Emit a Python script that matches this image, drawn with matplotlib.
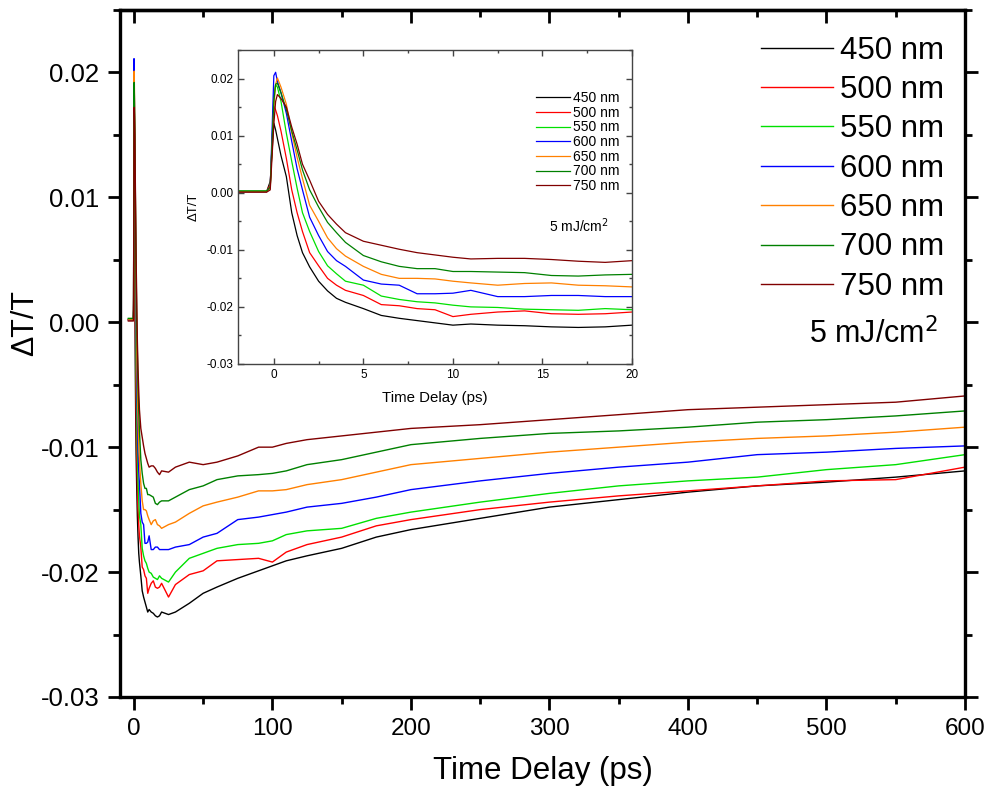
import matplotlib
matplotlib.use("Agg")
import matplotlib.pyplot as plt
from matplotlib.ticker import MultipleLocator, NullFormatter

# --- data ---
t_early = [-4, -2, -0.4, -0.2, 0, 0.1, 0.2, 0.4, 0.7, 1.0, 1.3, 1.6, 2.0, 2.5, 3.0, 3.5, 4.0,
           5, 6, 7, 8, 9, 10, 11, 12.5, 14, 15.5, 17, 18.5, 20]
t_late = [25, 30, 40, 50, 60, 75, 90, 100, 110, 125, 150, 175, 200, 250, 300, 350, 400, 450, 500, 550, 600]

labels = ['450 nm', '500 nm', '550 nm', '600 nm', '650 nm', '700 nm', '750 nm']
colors = ['#000000', '#ff0000', '#00e000', '#0000ff', '#ff8000', '#008000', '#800000']

y450_early = [0.0002, 0.0002, 0.0002, 0.002, 0.0122, 0.011, 0.0095, 0.0065, 0.0028, -0.0035, -0.0075, -0.0105,
              -0.013, -0.0155, -0.0172, -0.0185, -0.0192, -0.0203, -0.0215, -0.022, -0.0224, -0.0228, -0.0232,
              -0.0230, -0.0232, -0.0233, -0.0235, -0.0236, -0.0235, -0.0232]
y500_early = [0.0002, 0.0002, 0.0002, 0.0015, 0.0152, 0.0145, 0.0135, 0.0108, 0.006, 0.0005, -0.0035, -0.0068,
              -0.0105, -0.0128, -0.0150, -0.0162, -0.0171, -0.0180, -0.0196, -0.0198, -0.0203, -0.0205, -0.0217,
              -0.0213, -0.0209, -0.0207, -0.0212, -0.0213, -0.0212, -0.0209]
y550_early = [0.0003, 0.0003, 0.0003, 0.001, 0.017, 0.0189, 0.0185, 0.016, 0.0104, 0.0055, 0.0008, -0.0035,
              -0.0068, -0.0103, -0.0128, -0.0142, -0.0155, -0.0162, -0.0181, -0.0187, -0.0191, -0.0193, -0.0197,
              -0.0200, -0.0201, -0.0204, -0.0205, -0.0206, -0.0203, -0.0205]
y600_early = [0.0002, 0.0002, 0.0002, 0.001, 0.0205, 0.0211, 0.0195, 0.0175, 0.0139, 0.009, 0.0042, 0.0005,
              -0.0043, -0.0075, -0.0103, -0.0119, -0.0129, -0.0153, -0.0160, -0.0162, -0.0177, -0.0177, -0.0176,
              -0.0171, -0.0182, -0.0182, -0.0180, -0.0180, -0.0182, -0.0182]
y650_early = [0.0002, 0.0002, 0.0002, 0.0008, 0.015, 0.019, 0.0201, 0.0185, 0.0155, 0.0105, 0.0062, 0.0025,
              -0.0022, -0.005, -0.0079, -0.0098, -0.0111, -0.0129, -0.0143, -0.0150, -0.0150, -0.0151, -0.0155,
              -0.0158, -0.0162, -0.0159, -0.0158, -0.0162, -0.0163, -0.0165]
y700_early = [0.0003, 0.0003, 0.0003, 0.001, 0.016, 0.019, 0.0192, 0.0175, 0.0145, 0.0108, 0.0075, 0.0040,
              0.0005, -0.0025, -0.0052, -0.0070, -0.0087, -0.0110, -0.0121, -0.0129, -0.0133, -0.0133, -0.0138,
              -0.0138, -0.0139, -0.0140, -0.0145, -0.0146, -0.0144, -0.0143]
y750_early = [0.0001, 0.0001, 0.0001, 0.0005, 0.012, 0.016, 0.0172, 0.0165, 0.0150, 0.0115, 0.0085, 0.0050,
              0.0022, -0.0015, -0.0038, -0.0055, -0.0070, -0.0085, -0.0092, -0.0099, -0.0105, -0.0109, -0.0113,
              -0.0116, -0.0115, -0.0115, -0.0117, -0.0120, -0.0122, -0.0119]

y450_late = [-0.0234, -0.0232, -0.0225, -0.0217, -0.0212, -0.0205, -0.0199, -0.0195, -0.0191, -0.0187, -0.0181,
             -0.0172, -0.0166, -0.0157, -0.0148, -0.0142, -0.0136, -0.0131, -0.0128, -0.0124, -0.0119]
y500_late = [-0.0220, -0.0210, -0.0202, -0.0199, -0.0191, -0.0190, -0.0189, -0.0192, -0.0184, -0.0178, -0.0172,
             -0.0163, -0.0158, -0.0150, -0.0144, -0.0139, -0.0135, -0.0131, -0.0127, -0.0126, -0.0116]
y550_late = [-0.0208, -0.0200, -0.0189, -0.0185, -0.0181, -0.0178, -0.0177, -0.0175, -0.0170, -0.0167, -0.0165,
             -0.0157, -0.0152, -0.0144, -0.0137, -0.0131, -0.0127, -0.0124, -0.0118, -0.0114, -0.0106]
y600_late = [-0.0182, -0.0180, -0.0178, -0.0172, -0.0169, -0.0158, -0.0156, -0.0154, -0.0152, -0.0148, -0.0145,
             -0.0140, -0.0134, -0.0127, -0.0121, -0.0116, -0.0112, -0.0106, -0.0104, -0.0101, -0.0099]
y650_late = [-0.0162, -0.0160, -0.0153, -0.0147, -0.0144, -0.0140, -0.0135, -0.0135, -0.0134, -0.0130, -0.0126,
             -0.0120, -0.0114, -0.0109, -0.0104, -0.0100, -0.0096, -0.0093, -0.0091, -0.0088, -0.0084]
y700_late = [-0.0143, -0.0140, -0.0134, -0.0131, -0.0126, -0.0123, -0.0122, -0.0121, -0.0119, -0.0114, -0.0110,
             -0.0104, -0.0098, -0.0093, -0.0089, -0.0087, -0.0084, -0.0080, -0.0078, -0.0075, -0.0071]
y750_late = [-0.0120, -0.0116, -0.0112, -0.0114, -0.0112, -0.0107, -0.0100, -0.0100, -0.0097, -0.0094, -0.0091,
             -0.0088, -0.0085, -0.0082, -0.0078, -0.0074, -0.0070, -0.0068, -0.0066, -0.0064, -0.0059]

early = [y450_early, y500_early, y550_early, y600_early, y650_early, y700_early, y750_early]
late = [y450_late, y500_late, y550_late, y600_late, y650_late, y700_late, y750_late]

ytick_vals = [-0.03, -0.02, -0.01, 0.0, 0.01, 0.02]
ytick_text = ['-0.03', '-0.02', '-0.01', '0.00', '0.01', '0.02']

plt.rcParams['font.family'] = ['Liberation Sans', 'DejaVu Sans']

fig = plt.figure(figsize=(9.88, 7.98), dpi=100)
ax = fig.add_axes([0.1215, 0.1266, 0.8552, 0.8609])

for ye, yl, lab, c in zip(early, late, labels, colors):
    ax.plot(t_early + t_late, ye + yl, color=c, lw=1.0, label=lab)

ax.set_xlim(-10, 600)
ax.set_ylim(-0.03, 0.025)
ax.xaxis.set_major_locator(MultipleLocator(100))
ax.xaxis.set_minor_locator(MultipleLocator(50))
ax.set_yticks(ytick_vals)
ax.set_yticklabels(ytick_text)
ax.yaxis.set_minor_locator(MultipleLocator(0.005))
for s in ax.spines.values():
    s.set_linewidth(2.4)
ax.tick_params(which='major', direction='out', length=9, width=2, pad=6, right=True)
ax.tick_params(which='minor', direction='out', length=5, width=2, right=True)
ax.tick_params(axis='x', labelsize=17.5)
ax.tick_params(axis='y', labelsize=18.5)

# top ticks point inward
top = ax.secondary_xaxis('top')
top.xaxis.set_major_locator(MultipleLocator(100))
top.xaxis.set_minor_locator(MultipleLocator(50))
top.xaxis.set_major_formatter(NullFormatter())
top.tick_params(which='major', direction='in', length=9, width=2)
top.tick_params(which='minor', direction='in', length=5, width=2)
top.spines['top'].set_linewidth(2.4)

ax.set_xlabel('Time Delay (ps)', fontsize=22.5, labelpad=12)
ax.set_ylabel('ΔT/T', fontsize=22)
ax.yaxis.set_label_coords(-0.095, 0.545)

ax.legend(loc='upper right', bbox_to_anchor=(0.997, 0.99), frameon=False, fontsize=22.5,
          handlelength=2.3, handletextpad=0.2, labelspacing=0.3, borderaxespad=0.2)
ax.text(0.968, 0.528, '5 mJ/cm$^2$', transform=ax.transAxes, fontsize=22, ha='right', va='center')

# --- inset ---
ins = fig.add_axes([0.2409, 0.5439, 0.3988, 0.3934])
for ye, lab, c in zip(early, labels, colors):
    ins.plot(t_early, ye, color=c, lw=0.9, label=lab)
ins.set_xlim(-2, 20)
ins.set_ylim(-0.03, 0.025)
ins.xaxis.set_major_locator(MultipleLocator(5))
ins.xaxis.set_minor_locator(MultipleLocator(2.5))
ins.set_yticks(ytick_vals)
ins.set_yticklabels(ytick_text)
ins.yaxis.set_minor_locator(MultipleLocator(0.005))
for s in ins.spines.values():
    s.set_linewidth(1.0)
    s.set_color('#444444')
ins.tick_params(which='major', direction='in', length=4, width=1, labelsize=8.5,
                top=True, right=True, colors='#444444', labelcolor='black')
ins.tick_params(which='minor', direction='in', length=2.5, width=1, top=True, right=True,
                colors='#444444')
ins.set_xlabel('Time Delay (ps)', fontsize=10.8, labelpad=7)
ins.set_ylabel('ΔT/T', fontsize=9.5)
ins.yaxis.set_label_coords(-0.098, 0.5)
ins.legend(loc='upper right', bbox_to_anchor=(0.99, 0.896), frameon=False, fontsize=10,
           handlelength=2.4, handletextpad=0.25, labelspacing=0.05, borderaxespad=0.2)
ins.text(0.94, 0.44, '5 mJ/cm$^2$', transform=ins.transAxes, fontsize=10, ha='right', va='center')

fig.savefig('out.png', dpi=100)
